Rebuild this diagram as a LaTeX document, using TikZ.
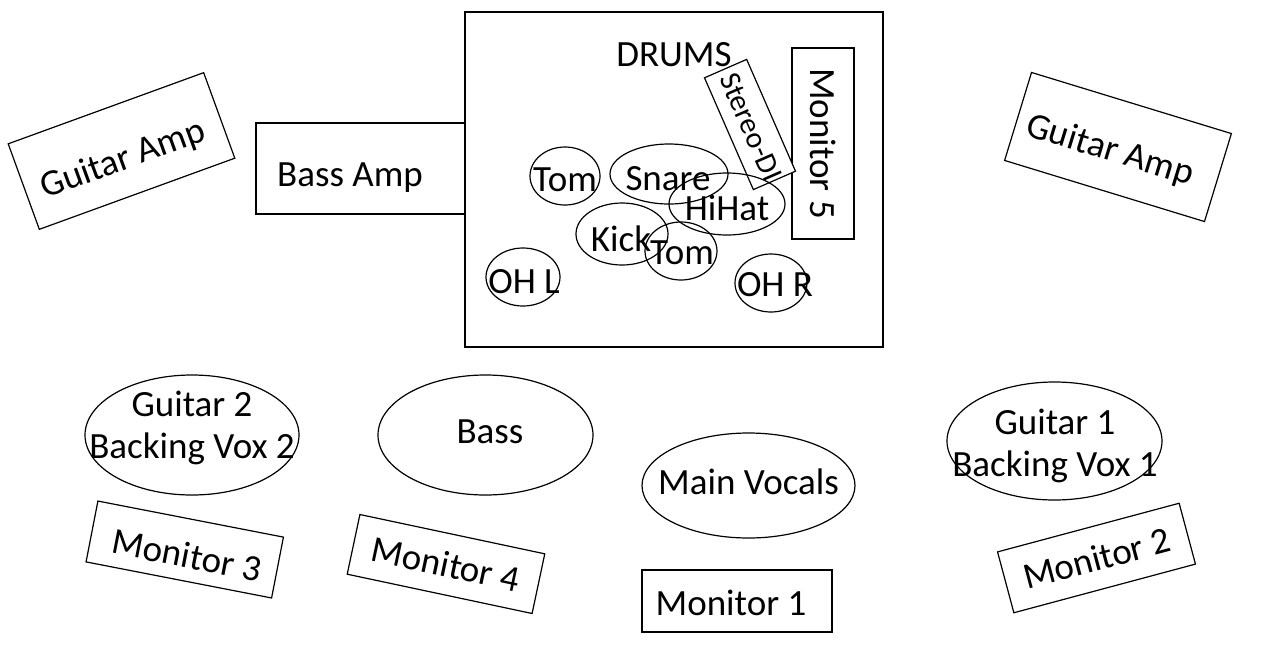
\documentclass[tikz,border=0pt]{standalone}
\usepackage{fontspec}
\setmainfont{Carlito}
\usetikzlibrary{shapes.geometric}
\tikzset{
  box/.style={draw, line width=1.2pt, rectangle, inner sep=0pt, fill=white},
  oval/.style={draw, line width=1.2pt, ellipse, inner sep=0pt},
  txt/.style={inner sep=0pt, font=\fontsize{37}{42}\selectfont, align=center},
}
\begin{document}
\begin{tikzpicture}[x=1pt,y=-1pt]
\useasboundingbox (0,0) rectangle (1270,657);

% Drum riser
\node[box, minimum width=418, minimum height=335] (drums) at (674,179.5) {};
\node[txt] (drumslbl) at (674,55) {DRUMS};

% Bass amp
\node[box, minimum width=209, minimum height=91] (bassamp) at (360.5,168.5) {};
\node[txt] (bassamplbl) at (350,178) {Bass Amp};
\draw[line width=1.2pt] (drums.north west) -- (drums.south west);

% Guitar amps
\node[box, minimum width=208, minimum height=91, rotate=20] (gampL) at (121.5,151) {};
\node[txt, rotate=20] (gampLlbl) at (123,160) {Guitar Amp};
\node[box, minimum width=209, minimum height=92, rotate=-17] (gampR) at (1118,147) {};
\node[txt, rotate=-17] (gampRlbl) at (1110,151) {Guitar Amp};

% Monitor 5 and Stereo-DI
\node[box, minimum width=191, minimum height=62, rotate=-90, txt, draw] (mon5) at (823,143.5) {Monitor 5};
\node[box, minimum width=122, minimum height=46, rotate=-66.4] (di) at (750,124.5) {};
\node[inner sep=0pt, rotate=-66.4, font=\fontsize{30}{36}\selectfont] (dilbl) at (751,127) {Stereo-DI};

% Drum kit
\node[oval, minimum width=70, minimum height=58] (tomL) at (565,176) {};
\node[oval, minimum width=118, minimum height=60] (snare) at (669,174) {};
\node[oval, minimum width=116, minimum height=62] (hihat) at (727,204) {};
\node[oval, minimum width=92, minimum height=62] (kick) at (622,234) {};
\node[oval, minimum width=72, minimum height=58] (tomF) at (681,251) {};
\node[oval, minimum width=74, minimum height=58] (ohl) at (523,277) {};
\node[oval, minimum width=72, minimum height=58] (ohr) at (771,283) {};
\node[txt] (tomLlbl) at (565,180) {Tom};
\node[txt] (snarelbl) at (668,179) {Snare};
\node[txt] (hihatlbl) at (727,208) {HiHat};
\node[txt] (kicklbl) at (621,239) {Kick};
\node[txt] (tomFlbl) at (682,253) {Tom};
\node[txt] (ohllbl) at (524,282) {OH L};
\node[txt] (ohrlbl) at (775,285) {OH R};

% Performers
\node[oval, minimum width=214, minimum height=120] (g2) at (192,435) {};
\node[txt] (g2lbl) at (192,428) {Guitar 2\\Backing Vox 2};
\node[oval, minimum width=215, minimum height=120] (bass) at (485.5,435) {};
\node[txt] (basslbl) at (490,432) {Bass};
\node[oval, minimum width=213, minimum height=105] (vox) at (748.5,485.5) {};
\node[txt] (voxlbl) at (748.5,482) {Main Vocals};
\node[oval, minimum width=215, minimum height=118] (g1) at (1054.5,441) {};
\node[txt] (g1lbl) at (1055,446) {Guitar 1\\Backing Vox 1};

% Monitors
\node[box, minimum width=190, minimum height=62] (mon1) at (737,601) {};
\node[txt] (mon1lbl) at (731,603) {Monitor 1};
\node[box, minimum width=188, minimum height=63, rotate=15, txt, draw] (mon2) at (1096.5,558) {Monitor 2};
\node[box, minimum width=189, minimum height=62, rotate=-11] (mon3) at (184.75,549.5) {};
\node[txt, rotate=-11] (mon3lbl) at (187,555) {Monitor 3};
\node[box, minimum width=189, minimum height=61, rotate=-12, txt, draw] (mon4) at (446,564) {Monitor 4};
\end{tikzpicture}
\end{document}
